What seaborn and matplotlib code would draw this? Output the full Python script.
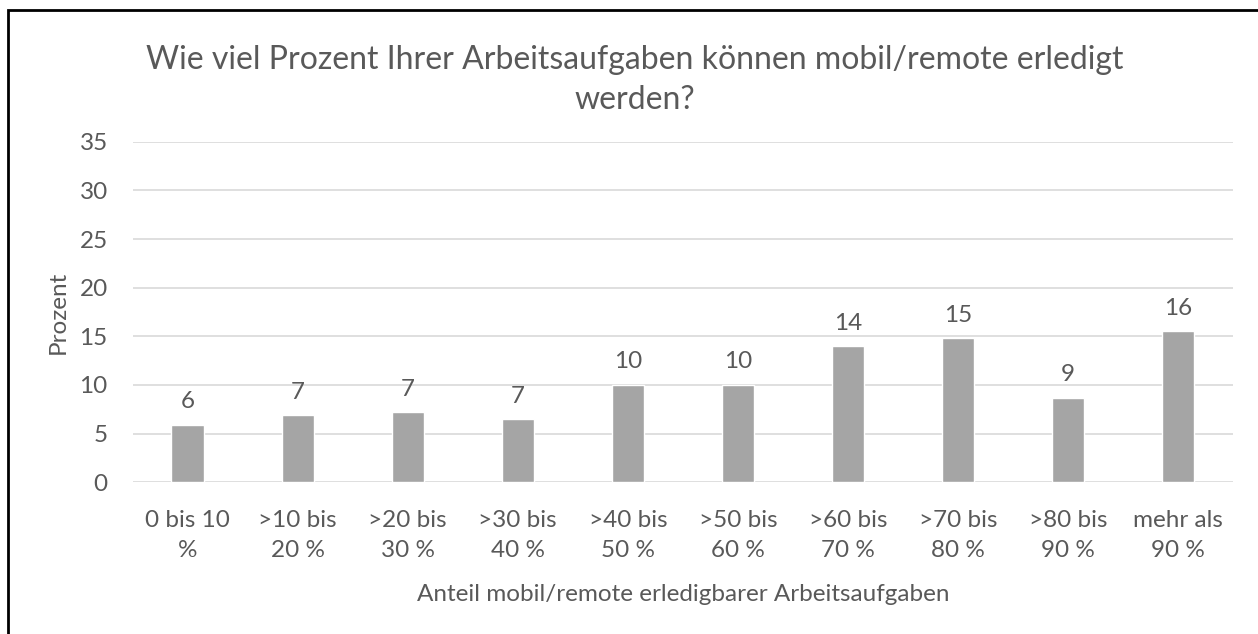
import matplotlib
matplotlib.use("Agg")
import matplotlib.pyplot as plt
import seaborn as sns
import pandas as pd
from matplotlib.patches import Rectangle

categories = ["0 bis 10\n%", ">10 bis\n20 %", ">20 bis\n30 %", ">30 bis\n40 %", ">40 bis\n50 %",
              ">50 bis\n60 %", ">60 bis\n70 %", ">70 bis\n80 %", ">80 bis\n90 %", "mehr als\n90 %"]
values = [5.9, 6.9, 7.2, 6.5, 10.0, 10.0, 14.0, 14.8, 8.7, 15.5]
yticks = [0, 5, 10, 15, 20, 25, 30, 35]
title = "Wie viel Prozent Ihrer Arbeitsaufgaben können mobil/remote erledigt\nwerden?"
xlabel = "Anteil mobil/remote erledigbarer Arbeitsaufgaben"
ylabel = "Prozent"

sns.set_theme(style="white")
plt.rcParams['font.family'] = ['Lato', 'DejaVu Sans']
TXT = "#595959"
FS = 17.5

df = pd.DataFrame({"cat": categories, "val": values})

W, H = 1258, 634
fig = plt.figure(figsize=(W / 100, H / 100), dpi=100)
ax = fig.add_axes([132.7 / W, 1 - 482.3 / H, (1233 - 132.7) / W, (482.3 - 141.7) / H])

sns.barplot(data=df, x="cat", y="val", color="#A5A5A5", saturation=1, width=0.295, ax=ax, zorder=3)

ax.set_ylim(0, 35)
ax.set_yticks(yticks)
ax.set_yticklabels([str(t) for t in yticks])
ax.grid(axis="y", color="#D9D9D9", linewidth=1.2, zorder=0)
ax.grid(axis="x", visible=False)
for s in ax.spines.values():
    s.set_visible(False)
ax.tick_params(axis="both", length=0, labelsize=FS, colors=TXT)
ax.tick_params(axis="x", pad=20)
ax.tick_params(axis="y", pad=18)
for lbl in ax.get_xticklabels():
    lbl.set_linespacing(1.55)

ax.set_xlabel(xlabel, fontsize=FS, color=TXT, labelpad=16)
ax.set_ylabel(ylabel, fontsize=FS, color=TXT, labelpad=8)

for i, v in enumerate(values):
    ax.annotate(str(int(v + 0.5)), (i, v), xytext=(0, 9), textcoords="offset points",
                ha="center", va="bottom", fontsize=FS, color=TXT)

fig.text(635 / W, 1 - 80 / H, title, ha="center", va="center", fontsize=23, color=TXT, linespacing=1.4)

fig.patches.append(Rectangle((8 / W, -0.05), 1.1, 1 - 9.5 / H + 0.05, transform=fig.transFigure,
                             fill=False, edgecolor="black", linewidth=2.0))

fig.savefig("out.png", dpi=100, facecolor="white")
